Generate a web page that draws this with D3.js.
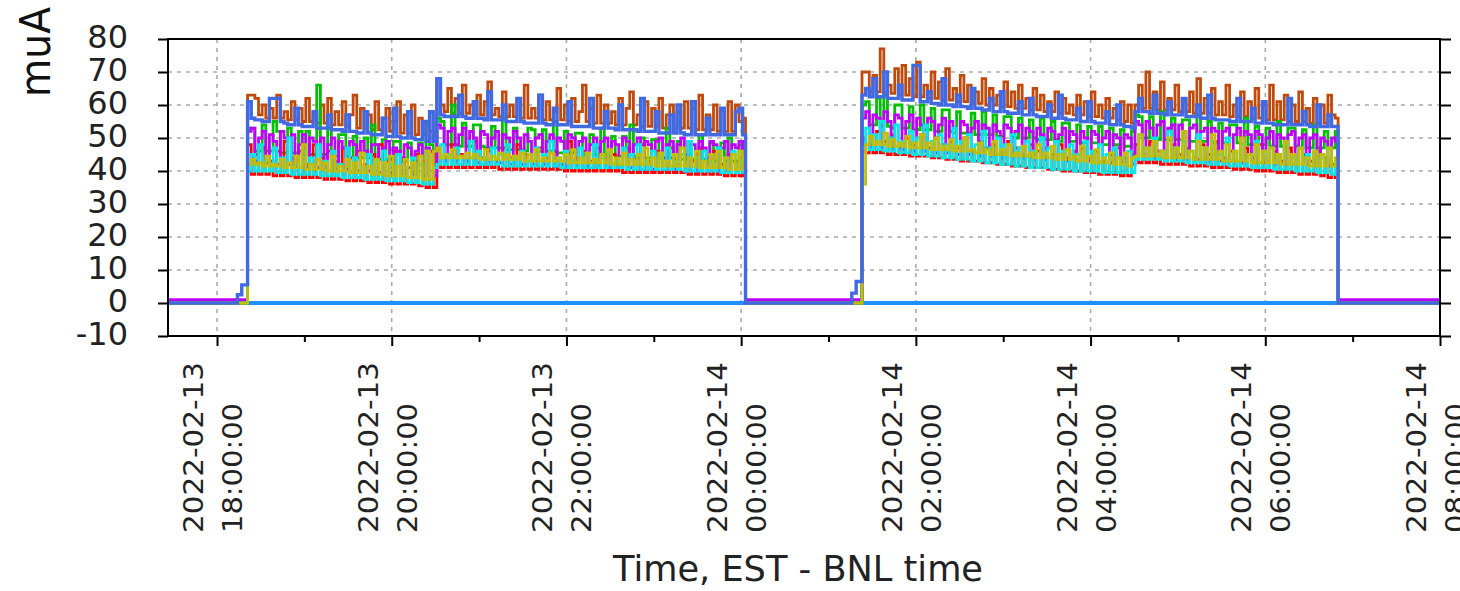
<!DOCTYPE html>
<html><head><meta charset="utf-8">
<script src="https://cdn.jsdelivr.net/npm/d3@7"></script>
<style>html,body{margin:0;padding:0;background:#fff;} svg{display:block;}</style>
</head><body><svg id="chart" width="1460" height="591"></svg>
<script>
// ---------------- DATA ----------------
const viewStart = "2022-02-13 17:26:20";
const viewEnd   = "2022-02-14 08:00:00";
const fillStarts = ["2022-02-13 18:21:00", "2022-02-13 20:31:00", "2022-02-14 01:23:00", "2022-02-14 04:30:30"];
const run1End   = "2022-02-14 00:03:00";
const run2End   = "2022-02-14 06:50:00";
const sampleMinutes = 2.5;
const majorTicks = ["2022-02-13 18:00:00","2022-02-13 20:00:00","2022-02-13 22:00:00","2022-02-14 00:00:00","2022-02-14 02:00:00","2022-02-14 04:00:00","2022-02-14 06:00:00","2022-02-14 08:00:00"];
const minorTicks = ["2022-02-13 19:00:00","2022-02-13 21:00:00","2022-02-13 23:00:00","2022-02-14 01:00:00","2022-02-14 03:00:00","2022-02-14 05:00:00","2022-02-14 07:00:00"];
const yTicks = [-10,0,10,20,30,40,50,60,70,80];
const yLabel = "muA";
const xTitle = "Time, EST - BNL time";

const blueRamp1 = [["2022-02-13 18:14:00", 2.5], ["2022-02-13 18:17:00", 5.5]];
const blueRamp2 = [["2022-02-14 01:16:00", 3], ["2022-02-14 01:19:00", 6.5]];
const seriesNames = ["brown","green","red","magenta","cyan","olive","blue"];
const offLevels   = [0, 0, 0, 1, 0, 0, 0];
const zeroLevel = 0;

// brown
const brownR1a = [63,63,62,57,60,56,59,56,63,56, 58,55.5,61,55.5,59,55,62,55,57,54.5, 60,54.5,62,54,58,54,61,53.5,57,63, 53,59,53,57,52.5,61,52.5,56,59,52, 55,61,51.5,57,51.5,60,51,56,51,55, 52,50.5];
const brownR1b = [68,60,58,65,57.5,62,57.5,66,57.5,60, 57,63,57,61,67,57,59,56.5,64,56.5, 60,56.5,62,56,66,56,59,56,63,55.5, 61,55.5,58,65,55.5,60,55,62,55,58, 66,55,59,54.5,63,54.5,60,54.5,58,54, 62,54,59,64,54,57,53.5,61,53.5,59, 53.5,62,53,57,60,53,58,53,61,53, 59,52.5,63,52.5,57,52.5,60,52,58,52, 61,52,60,55,56];
const brownR2a = [70,70,64,69,64,77,63.5,66,63.5,71, 63,72,63,68,62.5,73,62.5,66,62,70, 62,67,61.5,71,61.5,65,61,69,61,66, 60.5,64,60.5,68,60,65,60,63,59.5,67, 59.5,64,59,66,59,62,58.5,65,58.5,63, 58,61,58,64,57.5,62,57.5,60,57,63, 57,61,56.5,64,56.5,60,56,62,56,59, 55.5,61,55,60,54.5];
const brownR2b = [60,66,59,70,59,64,58.5,67,58.5,62, 58.5,66,58,61,58,64,57.5,68,57.5,62, 57.5,65,57,61,57,66,56.5,60,56.5,64, 56.5,61,56,65,56,60,55.5,66,55.5,61, 55.5,63,55,60,55,64,55,59,54.5,62, 54.5,60,54.5,63,57,56];
// green
const greenR1a = [53,53,46,46,54,46,46,55,52,45.5, 45.5,53,45.5,45.5,52,45,52,45,45,66, 45,45,53,44.5,44.5,51,51,44.5,44,50.5, 44,44,50,44,54,43.5,43.5,49.5,43.5,43.5, 49,49,43,43,48.5,43,43,48.5,42.5,54, 48,42.5];
const greenR1b = [56,55,48,48,60,48,47.5,54.5,47.5,47.5, 54,54,47.5,47,47,53.5,47,47,56,46.5, 46.5,53,46.5,46.5,46,53,52.5,46,46,52.5, 46,46,55,45.5,45.5,52,45.5,45.5,51.5,51.5, 45,45,51,45,45,53,45,44.5,50.5,44.5, 44.5,50.5,44.5,54,44.5,44,50,44,44,49.5, 49.5,44,44,53,44,43.5,49,43.5,43.5,49, 43.5,43.5,51,43.5,43,48.5,43,43,48.5,43, 50,43,43,48,43];
const greenR2a = [60,61,54,54,62,53.5,63,53.5,53,60, 60,53,53,59.5,52.5,52.5,60,52.5,52.5,59, 52,52,58.5,58.5,52,51.5,58,51.5,51.5,51.5, 57.5,51,51,58,51,51,57,50.5,50.5,56.5, 56.5,50.5,50,56,50,50,55.5,50,49.5,56, 49.5,49.5,55,49.5,49,54.5,54.5,49,49,54, 48.5,48.5,53.5,48.5,48.5,53.5,48,48,53,48, 48,52.5,47.5,47.5,52];
const greenR2b = [57,56.5,50,50,56.5,50,49.5,58,49.5,49.5, 56,49.5,49.5,55.5,55.5,49,49,57,49,49, 55,48.5,48.5,54.5,48.5,48.5,54,54,48.5,48, 56,48,48,53.5,48,48,53,47.5,47.5,55, 47.5,47.5,53,53,47.5,47,52.5,47,47,54, 47,47,52,47,47,52];
// red
const redR1a = [48,39,45,39,47,39,43,38.5,46,38.5, 49,38.5,44,38,46,38,42,38,48,38, 44,37.5,46,37.5,43,37.5,47,37,44,37, 46,37,42,36.5,45,36.5,48,36.5,43,36, 46,36,44,36,41,36,45,35.5,43,35, 46,35];
const redR1b = [47,41,44,41,48,41,45,41,43,41, 49,41,44,41,46,41,43,40.5,47,40.5, 44,40.5,48,40.5,45,40.5,43,40.5,47,40.5, 44,40.5,46,40.5,42,40,49,40,44,40, 46,40,43,40,47,40,44,40,45,40, 42,39.5,47,39.5,44,39.5,48,39.5,43,39.5, 46,39.5,44,39.5,47,39.5,42,39.5,45,39, 43,39,47,39,44,39,46,39,42,38.5, 45,38.5,43,38.5,46];
const redR2a = [50,45.5,48,45.5,52,45.5,49,45,51,45, 47,45,50,44.5,48,44.5,51,44.5,47,44, 50,44,48,43.5,49,43.5,47,43,50,43, 46,43,49,42.5,47,42.5,48,42,46,42, 49,41.5,47,41.5,45,41,48,41,46,41, 47,40.5,45,40.5,48,40,44,40,46,40, 47,39.5,44,39.5,46,39,43,39,45,39, 47,38.5,44,38.5,45];
const redR2b = [48,42.5,45,42.5,49,42.5,46,42,44,42, 48,42,45,42,47,41.5,44,41.5,48,41.5, 45,41,49,41,44,41,46,40.5,43,40.5, 47,40.5,44,40,48,40,43,40,46,39.5, 43,39.5,47,39.5,42,39,45,39,43,39, 46,38.5,44,38,42,38];
// cyan
const cyanR1a = [40,45,40,48,40,43,40,47,39.5,44, 39.5,50,39,42,39,46,39,44,39,48, 38.5,43,38.5,46,38.5,42,38,47,38,44, 38,41,37.5,45,37.5,43,37.5,46,37,42, 37,45,37,41,36.5,44,36.5,42,36,46, 36,41];
const cyanR1b = [42,48,42,45,42,47,42,44,42,49, 42,46,42,44,42,47,42,45,41.5,48, 41.5,44,41.5,46,41.5,43,41.5,47,41.5,45, 41.5,49,41.5,44,41,46,41,43,41,47, 41,45,41,48,41,44,41,46,41,43, 41,47,40.5,45,40.5,48,40.5,43,40.5,46, 40.5,44,40.5,47,40.5,43,40.5,45,40,49, 40,44,40,46,40,43,40,47,39.5,44, 39.5,46,39.5,43,39.5];
const cyanR2a = [47,53,46.5,51,46.5,55,46,50,46,54, 45.5,49,45.5,52,45,50,45,54,44.5,49, 44.5,51,44,48,44,53,43.5,49,43.5,51, 43,48,43,52,42.5,47,42.5,50,42,48, 42,51,41.5,47,41.5,49,41,46,41,50, 41,47,40.5,49,40.5,46,40.5,48,40,45, 40,49,40,46,40,48,39.5,45,39.5,47, 39.5,44,39.5,46,39.5];
const cyanR2b = [43.5,51,43.5,47,43.5,50,43.5,46,43,52, 43,47,43,49,42.5,46,42.5,51,42.5,47, 42,49,42,45,42,50,41.5,46,41.5,48, 41.5,45,41,49,41,46,41,47,40.5,45, 40.5,48,40.5,44,40,47,40,45,40,46, 39.5,44,39.5,47,39,43];
// magenta
const magentaR1a = [52,53,43,50,52,42.5,51,49,42,52, 50,42,51,41.5,48,51,41,50,49,41, 50,41,48,50,40.5,49,47,40.5,49,48, 40,49,46,40,48,48,39.5,47,49,39.5, 47,46,39,48,47,39,46,48,38.5,47, 46,38.5];
const magentaR1b = [54,53,43,52,53,43,51,53,43,52, 50,42.5,52,51,42.5,50,52,42.5,51,50, 42,52,50,42,51,49,42,50,51,42, 49,51,41.5,50,49,41.5,51,50,41.5,49, 50,41.5,48,50,41,49,50,41,49,48, 41,50,49,41,48,50,40.5,49,48,40.5, 49,50,40.5,48,49,40.5,48,50,40,49, 48,40,49,47,40,49,48,40,47,49, 40,48,47,49,40];
const magentaR2a = [56,58,47,57,56,47,58,55,46.5,57, 56,46.5,55,57,46,56,54,46,56,55, 45.5,54,56,45.5,55,53,45,55,54,45, 53,55,44.5,54,53,44.5,54,52,44,54, 53,44,52,54,44,53,52,43.5,53,51, 43.5,53,52,43.5,51,53,43,52,51,43, 52,50,43,52,51,42.5,50,52,42.5,51, 50,42.5,51,50,42];
const magentaR2b = [55,54,44,55,53,44,54,55,44,53, 54,43.5,54,52,43.5,53,54,43.5,52,53, 43,53,52,43,52,53,43,51,53,42.5, 52,51,42.5,52,51,42.5,50,52,42,51, 50,42,51,52,42,50,51,42,50,51, 41.5,50,49,41.5,50,49];
// olive
const oliveR1a = [42,43.5,42,42.5,41.5,44.5,41.5,42,41.5,43.5, 41,42.5,41,44.5,41,48,40.5,42,40.5,43.5, 40.5,42.5,40,44.5,40,41.5,40,43.5,39.5,42.5, 39.5,45.5,39.5,41.5,39,43.5,39,42.5,38.5,44.5, 38.5,41.5,38.5,43.5,38,42.5,38,44.5,37.5,46, 37.5,46];
const oliveR1b = [47,44,45,44,46.5,44,44.5,44,45.5,44, 45,44,43.5,46.5,43.5,44.5,43.5,45.5,43.5,45, 43.5,44.5,43.5,45.5,43,45,43,46.5,43,44, 43,45.5,43,44,43,45,42.5,46.5,42.5,44, 42.5,45.5,42.5,43.5,42.5,45,42.5,46.5,42,44, 42,45.5,42,43.5,42,45,42,47,42,44, 41.5,45.5,41.5,43,41.5,45,41.5,47,41.5,44, 41.5,46,41,43,41,45,41,46,41,44, 40.5,45,40.5,46,40.5];
const oliveR2a = [36,48,50.5,48,49,48,51.5,47.5,49.5,47.5, 48.5,47.5,50.5,47,48.5,47,51,47,48.5,46.5, 50,46.5,47.5,46.5,49.5,46,47.5,46,50,46, 46.5,45.5,48.5,45.5,46.5,45,49,45,46.5,45, 48,44.5,45.5,44.5,47.5,44.5,45.5,44,48,44, 45.5,44,47.5,43.5,45,43.5,46.5,43.5,44.5,43, 47.5,43,44.5,42.5,46.5,42.5,44,42.5,45.5,42, 44,42,45.5,41.5,44];
const oliveR2b = [44.5,51,44.5,47,44.5,49,44.5,46,44,50, 44,47,44,52,44,46,43.5,49,43.5,47, 43.5,51,43.5,46,43,48,43,46,43,50, 43,45,42.5,48,42.5,46,42.5,47,42.5,45, 42,49,42,45,42,47,42,44,41.5,46, 41.5,45,41.5,47,41.5,44];
// blue
const blueR1a = [61,56,55.5,55.5,55,55,62,62,62,55, 54.5,54,54,59,54,53.5,53.5,53.5,58,53, 53,53,57,52.5,52.5,52.5,52,57,52,52, 51.5,51.5,58,51.5,51,51,51,56,50.5,50.5, 59,50.5,50,50,58,50,49.5,49.5,55,49, 58,49];
const blueR1b = [68,57,56.5,56.5,56.5,56.5,63,56.5,56,56, 61,56,56,55.5,64,55.5,55.5,55.5,60,55, 55,55,62,55,54.5,54.5,54.5,54.5,63,54.5, 54,54,59,54,54,54,61,53.5,53.5,53.5, 53.5,53.5,62,53,53,53,58,53,53,52.5, 60,52.5,52.5,52.5,52.5,52,62,52,52,52, 58,51.5,51.5,51.5,57,51.5,60,51.5,51,51, 61,51,51,51,56,51,51,51,59,51, 51,51,58,59,51];
const blueR2a = [63,65,62.5,68,62.5,62.5,70,62,62,62, 66,61.5,61.5,61.5,72,72,61,61,64,60.5, 60.5,60,68,60,60,59.5,63,59.5,59.5,59, 65,59,59,58.5,58.5,62,58,58,64,58, 57.5,57.5,57.5,61,57,57,62,57,56.5,56.5, 56.5,60,56,56,63,56,55.5,55.5,55.5,59, 55,55,61,55,54.5,54.5,54.5,58,54,54, 60,54,53.5,53.5,53];
const blueR2b = [58,62,58,58,57.5,63,57.5,57.5,57,61, 57,57,57,62,56.5,56.5,56.5,60,56,56, 63,56,55.5,55.5,55.5,55.5,55,55,62,55, 55,55,59,54.5,54.5,61,54.5,54.5,54,54, 54,54,62,54,54,54,58,54,53.5,53.5, 60,53.5,53.5,57,53.5,53.5];

// ---------------- STYLE ----------------
const colors = {brown:"#c04a0c", green:"#00c000", red:"#ff0000", cyan:"#00e8e8", magenta:"#c000ff", olive:"#c0c000", blue:"#4169e1", zero:"#1e90ff"};
const font = "DejaVu Sans";

// ---------------- CHART ----------------
const parse = d3.timeParse("%Y-%m-%d %H:%M:%S");
const svg = d3.select("#chart");
const x = d3.scaleTime().domain([parse(viewStart), parse(viewEnd)]).range([168, 1440]);
const y = d3.scaleLinear().domain([-10, 80]).range([336, 39]);

const fills = {
  brown:[brownR1a, brownR1b, brownR2a, brownR2b],
  green:[greenR1a, greenR1b, greenR2a, greenR2b],
  red:[redR1a, redR1b, redR2a, redR2b],
  cyan:[cyanR1a, cyanR1b, cyanR2a, cyanR2b],
  magenta:[magentaR1a, magentaR1b, magentaR2a, magentaR2b],
  olive:[oliveR1a, oliveR1b, oliveR2a, oliveR2b],
  blue:[blueR1a, blueR1b, blueR2a, blueR2b]
};

function samples(startStr, vals) {
  const s = parse(startStr);
  return vals.map((v, i) => ({t: new Date(s.getTime() + i * sampleMinutes * 60000), v}));
}

// grid
const gridG = svg.append("g").attr("stroke", "#aaaaaa").attr("stroke-width", 1.6).attr("stroke-dasharray", "4,5");
gridG.selectAll("line.h").data(yTicks.filter(v => v > -10 && v < 80)).join("line")
  .attr("x1", x.range()[0]).attr("x2", x.range()[1]).attr("y1", d => y(d)).attr("y2", d => y(d));
gridG.selectAll("line.v").data(majorTicks.map(parse).filter(t => x(t) < 1439)).join("line")
  .attr("x1", d => x(d)).attr("x2", d => x(d)).attr("y1", y.range()[1]).attr("y2", y.range()[0]);

// clip
svg.append("clipPath").attr("id", "clip").append("rect")
  .attr("x", 166).attr("y", 30).attr("width", 1276).attr("height", 310);
const plotG = svg.append("g").attr("clip-path", "url(#clip)");

const line = d3.line().x(d => x(d.t)).y(d => y(d.v)).curve(d3.curveStepAfter);

// zero line
plotG.append("path").datum([{t: parse(viewStart), v: zeroLevel}, {t: parse(viewEnd), v: zeroLevel}])
  .attr("d", line).attr("fill", "none").attr("stroke", colors.zero).attr("stroke-width", 4);

seriesNames.forEach((name, k) => {
  const off = offLevels[k];
  const f = fills[name];
  const pts = [{t: parse(viewStart), v: off}];
  if (name === "blue") blueRamp1.forEach(([t, v]) => pts.push({t: parse(t), v}));
  pts.push(...samples(fillStarts[0], f[0]), ...samples(fillStarts[1], f[1]));
  pts.push({t: parse(run1End), v: off});
  if (name === "blue") blueRamp2.forEach(([t, v]) => pts.push({t: parse(t), v}));
  pts.push(...samples(fillStarts[2], f[2]), ...samples(fillStarts[3], f[3]));
  pts.push({t: parse(run2End), v: off});
  pts.push({t: parse(viewEnd), v: off});
  plotG.append("path").datum(pts).attr("d", line).attr("fill", "none")
    .attr("stroke", colors[name]).attr("stroke-width", name === "blue" ? 3.4 : 2.8)
    .attr("stroke-linejoin", "miter");
});

// frame
svg.append("rect").attr("x", 168).attr("y", 39).attr("width", 1440 - 168).attr("height", 336 - 39)
  .attr("fill", "none").attr("stroke", "#000").attr("stroke-width", 2);

// axes ticks
const axL = svg.append("g").attr("transform", "translate(168,0)")
  .call(d3.axisLeft(y).tickValues(yTicks).tickSize(10).tickFormat(""));
const axR = svg.append("g").attr("transform", "translate(1440,0)")
  .call(d3.axisRight(y).tickValues(yTicks).tickSize(11).tickFormat(""));
const axB = svg.append("g").attr("transform", "translate(0,336)")
  .call(d3.axisBottom(x).tickValues(majorTicks.map(parse)).tickSize(10).tickFormat(""));
const axBm = svg.append("g").attr("transform", "translate(0,336)")
  .call(d3.axisBottom(x).tickValues(minorTicks.map(parse)).tickSize(6).tickFormat(""));
[axL, axR, axB, axBm].forEach(g => {
  g.select(".domain").remove();
  g.selectAll("line").attr("stroke", "#000").attr("stroke-width", 2);
});

// y labels
svg.append("g").selectAll("text").data(yTicks).join("text")
  .attr("x", 128).attr("y", d => y(d) + 8.5).attr("text-anchor", "end")
  .attr("font-family", font).attr("font-size", 32).attr("fill", "#222").text(d => d);

// y title
svg.append("text").attr("transform", "translate(50,52) rotate(-90)")
  .attr("text-anchor", "middle").attr("font-family", font).attr("font-size", 42)
  .attr("textLength", 90).attr("lengthAdjust", "spacingAndGlyphs").attr("fill", "#111").text(yLabel);

// x labels
const fmtD = d3.timeFormat("%Y-%m-%d"), fmtT = d3.timeFormat("%H:%M:%S");
const xl = svg.append("g").selectAll("g").data(majorTicks.map(parse)).join("g")
  .attr("transform", d => `translate(${x(d)},533) rotate(-90)`);
xl.append("text").attr("x", 0).attr("y", -14).attr("font-family", font).attr("font-size", 26.5)
  .attr("textLength", 171).attr("lengthAdjust", "spacingAndGlyphs").attr("fill", "#222").text(d => fmtD(d));
xl.append("text").attr("x", 0).attr("y", 25).attr("font-family", font).attr("font-size", 26.5)
  .attr("textLength", 130).attr("lengthAdjust", "spacingAndGlyphs").attr("fill", "#222").text(d => fmtT(d));

// x title
svg.append("text").attr("x", 613).attr("y", 581).attr("font-family", font).attr("font-size", 35)
  .attr("textLength", 370).attr("lengthAdjust", "spacingAndGlyphs").attr("fill", "#222").text(xTitle);
</script></body></html>
